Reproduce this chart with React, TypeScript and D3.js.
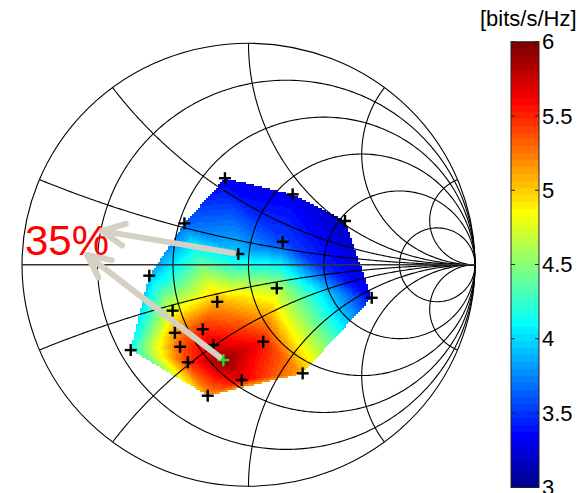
import React, { useMemo } from "react";
import * as d3 from "d3";

// Measurement points in reflection-coefficient (Gamma) coordinates
const pointRe = [-0.104, 0.195, 0.426, -0.283, 0.151, -0.045, -0.438, 0.125, -0.138, -0.335, -0.202, -0.325, -0.302, 0.065, -0.155, -0.52, -0.111, -0.268, -0.03, 0.239, -0.18, 0.544];
const pointIm = [0.391, 0.318, 0.198, 0.187, 0.104, 0.049, -0.049, -0.106, -0.167, -0.207, -0.291, -0.307, -0.37, -0.347, -0.362, -0.385, -0.43, -0.44, -0.52, -0.49, -0.591, -0.149];
// Spectral efficiency at each point [bits/s/Hz]
const pointVal = [3.3, 3.3, 3.15, 3.65, 3.55, 3.95, 3.9, 4.65, 5.1, 4.8, 5.5, 5.15, 5.35, 5.55, 5.7, 4.15, 5.95, 5.45, 5.65, 5.1, 5.15, 3.35];
const bestIndex = 16;

// Smith chart grid
const resistances = [0.2, 0.5, 1, 2, 5];
const reactances = [0.2, 0.5, 1, 2, 5, -0.2, -0.5, -1, -2, -5];

// Colorbar
const cbDomain = [3, 6];
const cbTicks = [3, 3.5, 4, 4.5, 5, 5.5, 6];
const unitLabel = "[bits/s/Hz]";

// Annotation
const annotationText = "35%";
const arrowFromIndex = [5, 16];
const arrowTipRe = [-0.648, -0.712];
const arrowTipIm = [0.153, 0.044];

function jet64(): string[] {
  const m = 64, n = 16;
  const u: number[] = [];
  for (let k = 1; k <= n; k++) u.push(k / n);
  for (let k = 0; k < n - 1; k++) u.push(1);
  for (let k = n; k >= 1; k--) u.push(k / n);
  const cols: string[] = [];
  for (let i = 1; i <= m; i++) {
    const gi = i - 8, ri = i - 24, bi = i + 8;
    const g = gi >= 1 && gi <= u.length ? u[gi - 1] : 0;
    const r = ri >= 1 && ri <= u.length ? u[ri - 1] : 0;
    const b = bi >= 1 && bi <= u.length ? u[bi - 1] : 0;
    cols.push(d3.rgb(r * 255, g * 255, b * 255).formatHex());
  }
  return cols;
}

function gamma(r: number, x: number): [number, number] {
  const D = (r + 1) * (r + 1) + x * x;
  return [(r * r - 1 + x * x) / D, (2 * x) / D];
}

export default function App() {
  const W = 582, H = 493;
  const xs = d3.scaleLinear().domain([-1, 1]).range([22, 475]);
  const ys = d3.scaleLinear().domain([-1, 1]).range([486.3, 43.3]);
  const colors = useMemo(() => jet64(), []);
  const color = d3.scaleQuantize<string>().domain(cbDomain).range(colors);
  const cbY = d3.scaleLinear().domain(cbDomain).range([487.3, 41.7]);
  const cbX0 = 511, cbW = 28;

  const line = d3.line<[number, number]>().x(d => xs(d[0])).y(d => ys(d[1]));

  const rPaths = resistances.map(r => {
    const pts: [number, number][] = [];
    const N = 400;
    for (let i = 1; i < N; i++) {
      const th = -Math.PI / 2 + (Math.PI * i) / N;
      pts.push(gamma(r, Math.tan(th)));
    }
    pts.unshift([1, 0]);
    pts.push([1, 0]);
    return line(pts)!;
  });

  const xPaths = reactances.map(x => {
    const pts: [number, number][] = [];
    const N = 300;
    for (let i = 0; i < N; i++) {
      const th = (Math.PI / 2) * (i / N);
      pts.push(gamma(Math.tan(th), x));
    }
    pts.push([1, 0]);
    return line(pts)!;
  });

  const pts: [number, number][] = pointRe.map((re, i) => [xs(re), ys(pointIm[i])]);

  const cells = useMemo(() => {
    const delaunay = d3.Delaunay.from(pts);
    const tri = delaunay.triangles;
    const cs = 2;
    const seen = new Set<string>();
    const out: { x: number; y: number; c: string }[] = [];
    for (let t = 0; t < tri.length; t += 3) {
      const i0 = tri[t], i1 = tri[t + 1], i2 = tri[t + 2];
      const [x0, y0] = pts[i0], [x1, y1] = pts[i1], [x2, y2] = pts[i2];
      const v0 = pointVal[i0], v1 = pointVal[i1], v2 = pointVal[i2];
      const det = (y1 - y2) * (x0 - x2) + (x2 - x1) * (y0 - y2);
      if (Math.abs(det) < 1e-9) continue;
      const minX = Math.floor(Math.min(x0, x1, x2) / cs) * cs;
      const maxX = Math.ceil(Math.max(x0, x1, x2) / cs) * cs;
      const minY = Math.floor(Math.min(y0, y1, y2) / cs) * cs;
      const maxY = Math.ceil(Math.max(y0, y1, y2) / cs) * cs;
      for (let gx = minX; gx <= maxX; gx += cs) {
        for (let gy = minY; gy <= maxY; gy += cs) {
          const px = gx + cs / 2, py = gy + cs / 2;
          const l0 = ((y1 - y2) * (px - x2) + (x2 - x1) * (py - y2)) / det;
          const l1 = ((y2 - y0) * (px - x2) + (x0 - x2) * (py - y2)) / det;
          const l2 = 1 - l0 - l1;
          if (l0 >= -1e-9 && l1 >= -1e-9 && l2 >= -1e-9) {
            const key = gx + "_" + gy;
            if (seen.has(key)) continue;
            seen.add(key);
            const v = l0 * v0 + l1 * v1 + l2 * v2;
            out.push({ x: gx, y: gy, c: color(v) });
          }
        }
      }
    }
    return out;
  }, []);

  const arrows = arrowFromIndex.map((idx, k) => {
    const tip: [number, number] = [xs(arrowTipRe[k]), ys(arrowTipIm[k])];
    const p = pts[idx];
    const dx = p[0] - tip[0], dy = p[1] - tip[1];
    const len = Math.hypot(dx, dy);
    const ux = dx / len, uy = dy / len;
    const tail: [number, number] = [p[0] - ux * 5, p[1] - uy * 5];
    const ang = Math.atan2(uy, ux);
    const wl = 25, wa = (26 * Math.PI) / 180;
    const w1: [number, number] = [tip[0] + wl * Math.cos(ang - wa), tip[1] + wl * Math.sin(ang - wa)];
    const w2: [number, number] = [tip[0] + wl * Math.cos(ang + wa), tip[1] + wl * Math.sin(ang + wa)];
    return { tip, tail, w1, w2 };
  });

  const bands = d3.range(colors.length).map(i => {
    const v0 = cbDomain[0] + ((cbDomain[1] - cbDomain[0]) * i) / colors.length;
    const v1 = cbDomain[0] + ((cbDomain[1] - cbDomain[0]) * (i + 1)) / colors.length;
    return { y: cbY(v1), h: cbY(v0) - cbY(v1), c: colors[i] };
  });

  const arrowColor = "#d5d1c2";
  const gridColor = "#000";

  return (
    <svg
      width={W}
      height={H}
      style={{ position: "absolute", left: 0, top: 0, background: "#fff" }}
      fontFamily="'Liberation Sans', Arial, Helvetica, sans-serif"
    >
      <rect x={0} y={0} width={W} height={H} fill="#fff" />
      <g shapeRendering="crispEdges">
        {cells.map((c, i) => (
          <rect key={i} x={c.x} y={c.y} width={2} height={2} fill={c.c} />
        ))}
      </g>
      <g fill="none" stroke={gridColor} strokeWidth={1.1}>
        <ellipse cx={xs(0)} cy={ys(0)} rx={xs(1) - xs(0)} ry={ys(0) - ys(1)} />
        {rPaths.map((d, i) => <path key={"r" + i} d={d} />)}
        {xPaths.map((d, i) => <path key={"x" + i} d={d} />)}
        <line x1={xs(-1)} x2={xs(1)} y1={ys(0)} y2={ys(0)} stroke="#333" strokeWidth={1.4} />
      </g>
      <g strokeWidth={2.4}>
        {pts.map((p, i) => (
          <g key={"m" + i} stroke={i === bestIndex ? "#22dd22" : "#000"}>
            <line x1={p[0] - 6} x2={p[0] + 6} y1={p[1]} y2={p[1]} />
            <line x1={p[0]} x2={p[0]} y1={p[1] - 6} y2={p[1] + 6} />
          </g>
        ))}
      </g>
      <g stroke={arrowColor} strokeWidth={6} strokeLinecap="round" fill="none">
        {arrows.map((a, i) => (
          <g key={"a" + i}>
            <line x1={a.tail[0]} y1={a.tail[1]} x2={a.tip[0]} y2={a.tip[1]} />
            <line x1={a.tip[0]} y1={a.tip[1]} x2={a.w1[0]} y2={a.w1[1]} />
            <line x1={a.tip[0]} y1={a.tip[1]} x2={a.w2[0]} y2={a.w2[1]} />
          </g>
        ))}
      </g>
      <text x={25} y={255} fontSize={42} fill="#ff0000">{annotationText}</text>

      <g shapeRendering="crispEdges">
        {bands.map((b, i) => (
          <rect key={"b" + i} x={cbX0} y={b.y} width={cbW} height={b.h + 0.3} fill={b.c} />
        ))}
      </g>
      <rect x={cbX0} y={cbY(cbDomain[1])} width={cbW} height={cbY(cbDomain[0]) - cbY(cbDomain[1])} fill="none" stroke="#222" strokeWidth={1} />
      <g stroke="#222" strokeWidth={1}>
        {cbTicks.map((t, i) => (
          <g key={"t" + i}>
            <line x1={cbX0} x2={cbX0 + 4} y1={cbY(t)} y2={cbY(t)} />
            <line x1={cbX0 + cbW - 4} x2={cbX0 + cbW} y1={cbY(t)} y2={cbY(t)} />
          </g>
        ))}
      </g>
      <g fontSize={22} fill="#000">
        {cbTicks.map((t, i) => (
          <text key={"l" + i} x={542} y={cbY(t)} dy="0.35em">{String(t)}</text>
        ))}
      </g>
      <text x={480} y={25.5} fontSize={22} fill="#000">{unitLabel}</text>
    </svg>
  );
}
